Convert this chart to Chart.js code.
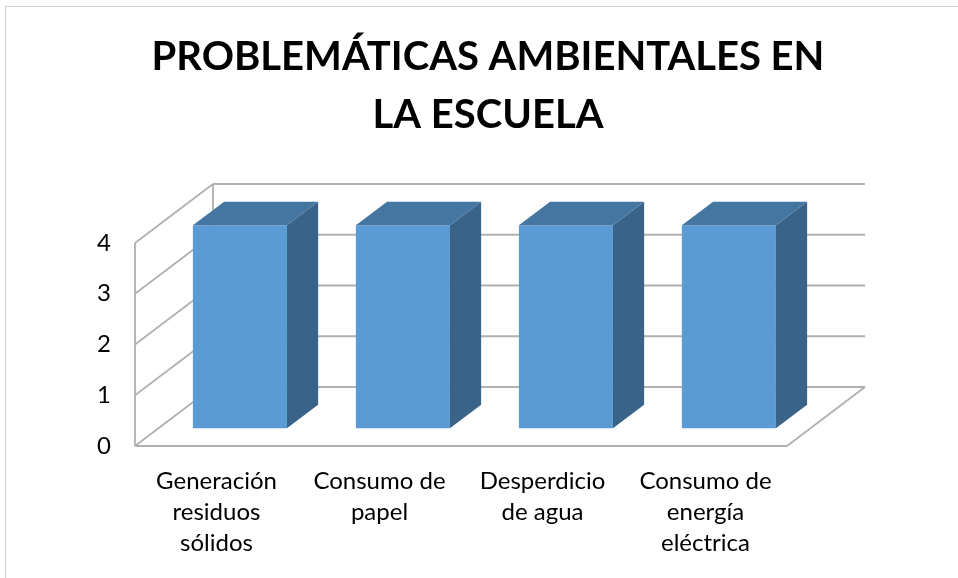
<!DOCTYPE html>
<html>
<head>
<meta charset="utf-8">
<title>Problemáticas ambientales en la escuela</title>
<script src="https://cdn.jsdelivr.net/npm/chart.js@4.4.1/dist/chart.umd.min.js"></script>
<style>
  html, body { margin: 0; padding: 0; background: #ffffff; }
  #wrap { width: 958px; height: 578px; }
</style>
</head>
<body>
<div id="wrap"><canvas id="chart" width="958" height="578"></canvas></div>
<script>
/* ===============================
   DATA
================================ */
const titleLines = ["PROBLEMÁTICAS AMBIENTALES EN", "LA ESCUELA"];
const categories = [
    ["Generación", "residuos", "sólidos"],
    ["Consumo de", "papel"],
    ["Desperdicio", "de agua"],
    ["Consumo de", "energía", "eléctrica"]
];
const values = [4, 4, 4, 4];
const yTicks = [0, 1, 2, 3, 4];

/* ===============================
   3D LOOK
================================ */
const DEPTH_X = 78;
const DEPTH_Y = 59;
const BAR_FRONT = 0.3;   // where the bar starts in the depth
const BAR_BACK = 0.7;    // where it ends
const WALL_COLOR = "#b0b0b0";
const FRONT_COLOR = "#5b9bd5";
const TOP_COLOR = "#4575a1";
const SIDE_COLOR = "#3a638a";

function line(ctx, x1, y1, x2, y2) {
    ctx.beginPath();
    ctx.moveTo(x1, y1);
    ctx.lineTo(x2, y2);
    ctx.stroke();
}

function poly(ctx, pts, color) {
    ctx.beginPath();
    ctx.moveTo(pts[0][0], pts[0][1]);
    for (let i = 1; i < pts.length; i++) ctx.lineTo(pts[i][0], pts[i][1]);
    ctx.closePath();
    ctx.fillStyle = color;
    ctx.fill();
}

const box3d = {
    id: "box3d",

    // outer frame of the chart object
    beforeDraw(chart) {
        const ctx = chart.ctx;
        ctx.save();
        ctx.strokeStyle = "#cfcfcf";
        ctx.lineWidth = 1;
        ctx.strokeRect(5.5, 6.5, chart.width + 20, chart.height + 20);
        ctx.restore();
    },

    // walls, floor, gridlines, then shift the bars into the depth
    beforeDatasetsDraw(chart) {
        const ctx = chart.ctx;
        const a = chart.chartArea;
        const y = chart.scales.y;

        ctx.save();
        ctx.strokeStyle = WALL_COLOR;
        ctx.lineWidth = 1.8;

        yTicks.forEach(v => {
            const py = y.getPixelForValue(v);
            line(ctx, a.left, py, a.left + DEPTH_X, py - DEPTH_Y);
            line(ctx, a.left + DEPTH_X, py - DEPTH_Y, a.right + DEPTH_X, py - DEPTH_Y);
        });

        const top = y.getPixelForValue(yTicks[yTicks.length - 1]);
        const base = y.getPixelForValue(0);
        line(ctx, a.left, top, a.left, base);
        line(ctx, a.left + DEPTH_X, top - DEPTH_Y, a.left + DEPTH_X, base - DEPTH_Y);
        line(ctx, a.left, base, a.right, base);
        line(ctx, a.right, base, a.right + DEPTH_X, base - DEPTH_Y);
        ctx.restore();

        ctx.save();
        ctx.translate(DEPTH_X * BAR_FRONT, -DEPTH_Y * BAR_FRONT);
    },

    // side and top faces of each bar
    afterDatasetsDraw(chart) {
        const ctx = chart.ctx;
        ctx.restore();

        const ox = DEPTH_X * BAR_FRONT;
        const oy = -DEPTH_Y * BAR_FRONT;
        const dx = DEPTH_X * (BAR_BACK - BAR_FRONT);
        const dy = -DEPTH_Y * (BAR_BACK - BAR_FRONT);

        chart.getDatasetMeta(0).data.forEach(bar => {
            const p = bar.getProps(["x", "y", "base", "width"], true);
            const l = p.x - p.width / 2 + ox;
            const r = p.x + p.width / 2 + ox;
            const t = p.y + oy;
            const b = p.base + oy;

            poly(ctx, [[r, t], [r + dx, t + dy], [r + dx, b + dy], [r, b]], SIDE_COLOR);
            poly(ctx, [[l, t], [l + dx, t + dy], [r + dx, t + dy], [r, t]], TOP_COLOR);
        });
    }
};

/* ===============================
   CHART
================================ */
const ctx = document.getElementById("chart");

new Chart(ctx, {
    type: "bar",
    data: {
        labels: categories,
        datasets: [{
            label: "Problemáticas",
            data: values,
            backgroundColor: FRONT_COLOR,
            borderWidth: 0,
            categoryPercentage: 1,
            barPercentage: 0.577,
            clip: false
        }]
    },
    options: {
        responsive: false,
        animation: false,
        layout: { padding: { left: 18, top: 0, right: 0, bottom: 0 } },
        plugins: {
            legend: { display: false },
            tooltip: { enabled: false },
            title: {
                display: true,
                text: titleLines,
                color: "#000000",
                font: { family: "Lato", size: 40, weight: "bold", lineHeight: "58px" },
                padding: { top: 28, bottom: 99 }
            }
        },
        scales: {
            x: {
                grid: { display: false, drawTicks: false },
                border: { display: false },
                ticks: {
                    color: "#000000",
                    font: { family: "Lato", size: 24, lineHeight: "31px" },
                    padding: 20,
                    maxRotation: 0,
                    autoSkip: false
                },
                afterFit(s) { s.height = 132; }
            },
            y: {
                min: 0,
                max: yTicks[yTicks.length - 1],
                grid: { display: false, drawTicks: false },
                border: { display: false },
                ticks: {
                    color: "#000000",
                    font: { family: "Lato", size: 24 },
                    padding: 24
                },
                afterBuildTicks(s) { s.ticks = yTicks.map(v => ({ value: v })); },
                afterFit(s) { s.width = 117; }
            },
            // empty axis that keeps room on the right for the depth
            y2: {
                position: "right",
                min: 0,
                max: 1,
                grid: { display: false, drawTicks: false },
                border: { display: false },
                ticks: { display: false },
                afterFit(s) { s.width = 171; }
            }
        }
    },
    plugins: [box3d]
});
</script>
</body>
</html>
